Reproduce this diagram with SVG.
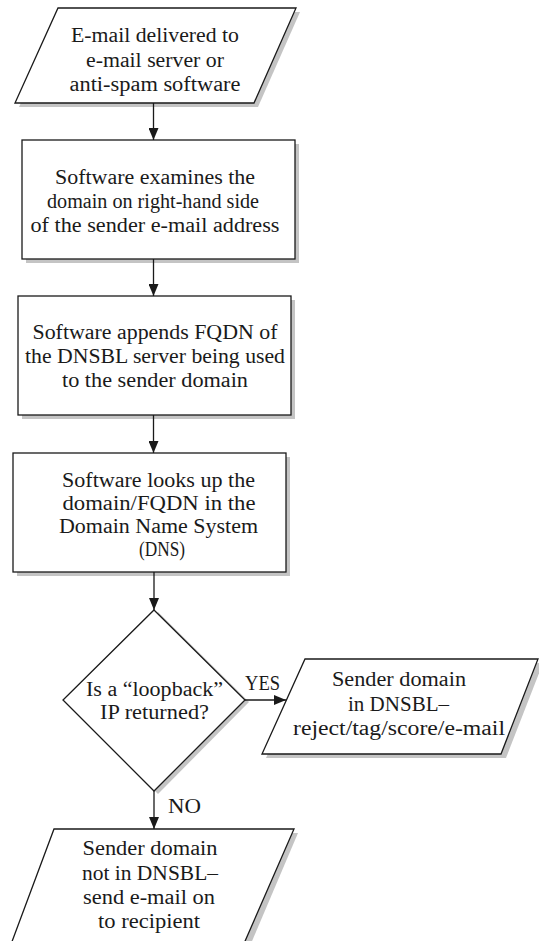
<svg xmlns="http://www.w3.org/2000/svg" width="539" height="941" viewBox="0 0 539 941">
<style>
  .shape { fill: #ffffff; stroke: #1a1a1a; stroke-width: 1.3; stroke-linejoin: miter; }
  .shadow { fill: #c4c4c4; stroke: none; }
  .t { font-family: "Liberation Serif", "Times New Roman", serif; font-size: 20.5px; fill: #1a1a1a; text-anchor: middle; }
  .lbl { font-family: "Liberation Serif", "Times New Roman", serif; font-size: 20.5px; fill: #1a1a1a; }
  .conn { stroke: #1a1a1a; stroke-width: 1.3; fill: none; marker-end: url(#arrow); }
</style>
<defs>
  <marker id="arrow" viewBox="0 0 12 10" refX="12" refY="5" markerWidth="12" markerHeight="10" markerUnits="userSpaceOnUse" orient="auto">
    <path d="M0,0 L12,5 L0,10 z" fill="#1a1a1a"/>
  </marker>
</defs>
<rect width="539" height="941" fill="#ffffff"/>

<g id="node-start">
  <polygon class="shadow" points="62,12 300,12 258,107 19,107"/>
  <polygon class="shape" points="58,8 296,8 254,103 15,103"/>
  <text class="t" x="155" y="42" textLength="168" lengthAdjust="spacingAndGlyphs">E-mail delivered to</text>
  <text class="t" x="155" y="66.5" textLength="138" lengthAdjust="spacingAndGlyphs">e-mail server or</text>
  <text class="t" x="155" y="91" textLength="171" lengthAdjust="spacingAndGlyphs">anti-spam software</text>
</g>

<g id="node-examine">
  <rect class="shadow" x="26" y="144" width="273" height="119"/>
  <rect class="shape" x="22" y="140" width="273" height="119"/>
  <text class="t" x="155" y="184" textLength="200" lengthAdjust="spacingAndGlyphs">Software examines the</text>
  <text class="t" x="153" y="208" textLength="212" lengthAdjust="spacingAndGlyphs">domain on right-hand side</text>
  <text class="t" x="155" y="231.5" textLength="249" lengthAdjust="spacingAndGlyphs">of the sender e-mail address</text>
</g>

<g id="node-append">
  <rect class="shadow" x="22" y="300" width="273" height="119"/>
  <rect class="shape" x="18" y="296" width="273" height="119"/>
  <text class="t" x="155" y="339" textLength="245" lengthAdjust="spacingAndGlyphs">Software appends FQDN of</text>
  <text class="t" x="155" y="363" textLength="260" lengthAdjust="spacingAndGlyphs">the DNSBL server being used</text>
  <text class="t" x="155" y="387" textLength="186" lengthAdjust="spacingAndGlyphs">to the sender domain</text>
</g>

<g id="node-lookup">
  <rect class="shadow" x="17" y="457" width="273" height="119"/>
  <rect class="shape" x="13" y="453" width="273" height="119"/>
  <text class="t" x="158.5" y="487" textLength="193" lengthAdjust="spacingAndGlyphs">Software looks up the</text>
  <text class="t" x="159" y="510" textLength="193" lengthAdjust="spacingAndGlyphs">domain/FQDN in the</text>
  <text class="t" x="158.5" y="533" textLength="199" lengthAdjust="spacingAndGlyphs">Domain Name System</text>
  <text class="t" x="162" y="555.5" textLength="46" lengthAdjust="spacingAndGlyphs">(DNS)</text>
</g>

<g id="node-decision">
  <polygon class="shadow" points="158,612 249,702 158,794 67,702"/>
  <polygon class="shape" points="154,610 245,700 154,791 63,700"/>
  <text class="t" x="154.5" y="696" textLength="137" lengthAdjust="spacingAndGlyphs">Is a “loopback”</text>
  <text class="t" x="154.5" y="719" textLength="109" lengthAdjust="spacingAndGlyphs">IP returned?</text>
</g>

<g id="node-yes">
  <polygon class="shadow" points="309,663 543,663 506,758 266,758"/>
  <polygon class="shape" points="305,659 538,659 501,754 262,754"/>
  <text class="t" x="399" y="686" textLength="134" lengthAdjust="spacingAndGlyphs">Sender domain</text>
  <text class="t" x="398.5" y="711" textLength="101" lengthAdjust="spacingAndGlyphs">in DNSBL–</text>
  <text class="t" x="399" y="735" textLength="212" lengthAdjust="spacingAndGlyphs">reject/tag/score/e-mail</text>
</g>

<g id="node-no">
  <polygon class="shadow" points="58,833 298,833 244,960 14,960"/>
  <polygon class="shape" points="54,829 294,829 239,955 7,955"/>
  <text class="t" x="150" y="855" textLength="135" lengthAdjust="spacingAndGlyphs">Sender domain</text>
  <text class="t" x="150" y="880" textLength="136" lengthAdjust="spacingAndGlyphs">not in DNSBL–</text>
  <text class="t" x="149" y="903.5" textLength="132" lengthAdjust="spacingAndGlyphs">send e-mail on</text>
  <text class="t" x="149" y="928" textLength="102" lengthAdjust="spacingAndGlyphs">to recipient</text>
</g>

<g id="connectors">
  <line class="conn" x1="153.5" y1="103" x2="153.5" y2="140"/>
  <line class="conn" x1="153.5" y1="259" x2="153.5" y2="296"/>
  <line class="conn" x1="153.5" y1="415" x2="153.5" y2="453"/>
  <line class="conn" x1="154" y1="572" x2="154" y2="610"/>
  <line class="conn" x1="245" y1="700" x2="286" y2="700"/>
  <line class="conn" x1="154" y1="791" x2="154" y2="829"/>
  <text class="lbl" x="245" y="690" textLength="35" lengthAdjust="spacingAndGlyphs">YES</text>
  <text class="lbl" x="168" y="813" textLength="33" lengthAdjust="spacingAndGlyphs">NO</text>
</g>
</svg>
